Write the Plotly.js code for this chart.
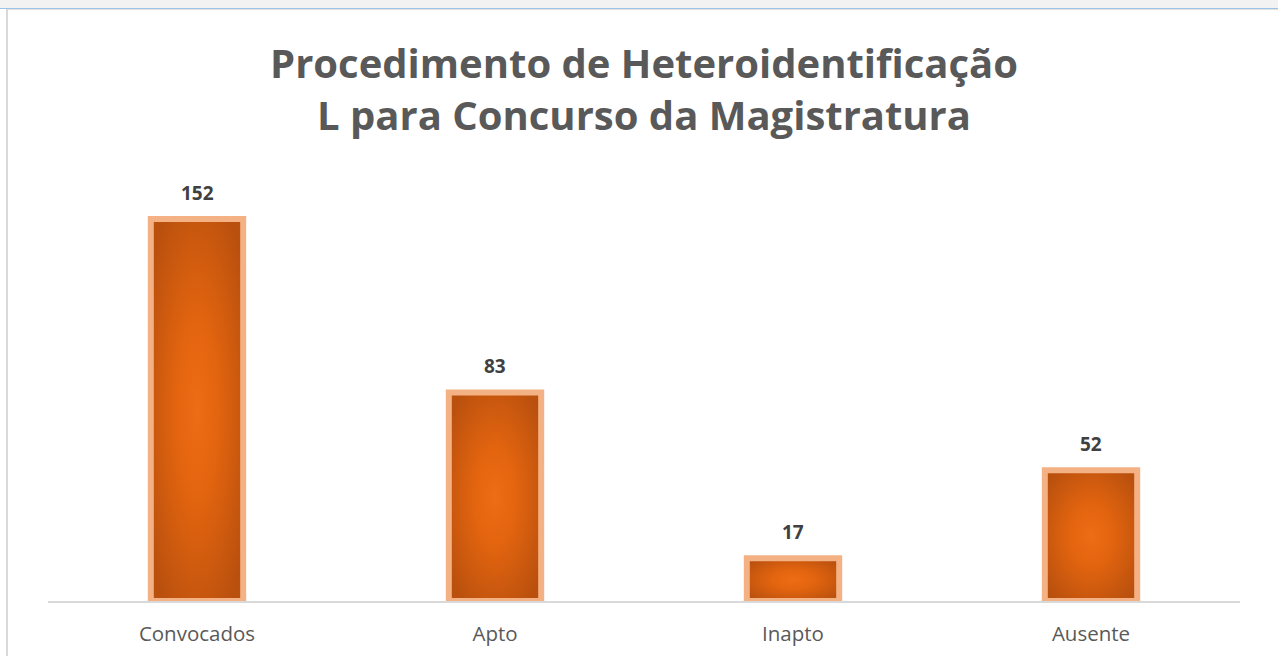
<!DOCTYPE html>
<html>
<head>
<meta charset="utf-8">
<script src="https://cdn.plot.ly/plotly-3.0.1.min.js"></script>
<style>
  html, body { margin: 0; padding: 0; background: #ffffff; }
  #chart { width: 1278px; height: 657px; }
  .strip-top { position: absolute; left: 0; top: 0; width: 1278px; height: 8px; background: #f2f2f2; }
  .line-blue { position: absolute; left: 0; top: 8px; width: 1278px; height: 1px; background: #9dc3e6; }
  .line-gray-top { position: absolute; left: 6px; top: 9px; width: 1272px; height: 1px; background: #e0e0e0; }
  .line-gray-left { position: absolute; left: 6px; top: 9px; width: 2px; height: 647px; background: #d9d9d9; }
</style>
</head>
<body>
<div id="chart"></div>
<div class="strip-top"></div>
<div class="line-blue"></div>
<div class="line-gray-top"></div>
<div class="line-gray-left"></div>
<script>
const categories = ["Convocados", "Apto", "Inapto", "Ausente"];
const values = [152, 83, 17, 52];
const chartTitle = "Procedimento de Heteroidentificação<br>L para Concurso da Magistratura";

const trace = {
  type: "bar",
  x: categories,
  y: values,
  width: 0.31,
  marker: {
    color: "#d65f12",
    line: { color: "#f4b183", width: 6 }
  },
  hoverinfo: "x+y"
};

const annotations = categories.map((c, i) => ({
  x: c, y: values[i], xref: "x", yref: "y",
  text: "<b>" + values[i] + "</b>",
  showarrow: false, yanchor: "bottom", yshift: 11,
  font: { family: "Open Sans", size: 19, color: "#404040" }
}));

const layout = {
  width: 1278, height: 657,
  margin: { l: 48, r: 38, t: 199, b: 56 },
  paper_bgcolor: "#ffffff",
  plot_bgcolor: "#ffffff",
  showlegend: false,
  title: {
    text: chartTitle,
    x: 0.5, xref: "paper", xanchor: "center",
    y: 0.881, yref: "container", yanchor: "top",
    font: { family: "Open Sans", size: 40, color: "#595959", weight: "bold" }
  },
  xaxis: {
    type: "category",
    showline: true, linecolor: "#d9d9d9", linewidth: 1.5,
    layer: "below traces",
    showgrid: false, ticks: "", zeroline: false,
    ticklabelstandoff: 14,
    tickfont: { family: "Open Sans", size: 20.5, color: "#595959" }
  },
  yaxis: {
    range: [0, 160],
    visible: false, showgrid: false, zeroline: false, fixedrange: true
  },
  annotations: annotations
};

Plotly.newPlot("chart", [trace], layout, { displayModeBar: false, staticPlot: true }).then(gd => {
  const svg = gd.querySelector("svg.main-svg");
  const ns = "http://www.w3.org/2000/svg";
  let defs = svg.querySelector("defs");
  if (!defs) { defs = document.createElementNS(ns, "defs"); svg.insertBefore(defs, svg.firstChild); }
  const g = document.createElementNS(ns, "radialGradient");
  g.setAttribute("id", "barGrad");
  g.setAttribute("cx", "0.5"); g.setAttribute("cy", "0.5"); g.setAttribute("r", "0.62");
  [["0", "#ed6c15"], ["0.35", "#e4650f"], ["1", "#b9500e"]].forEach(([o, col]) => {
    const s = document.createElementNS(ns, "stop");
    s.setAttribute("offset", o); s.setAttribute("stop-color", col);
    g.appendChild(s);
  });
  defs.appendChild(g);
  gd.querySelectorAll(".barlayer .point path").forEach(p => { p.style.fill = "url(#barGrad)"; });
});
</script>
</body>
</html>
